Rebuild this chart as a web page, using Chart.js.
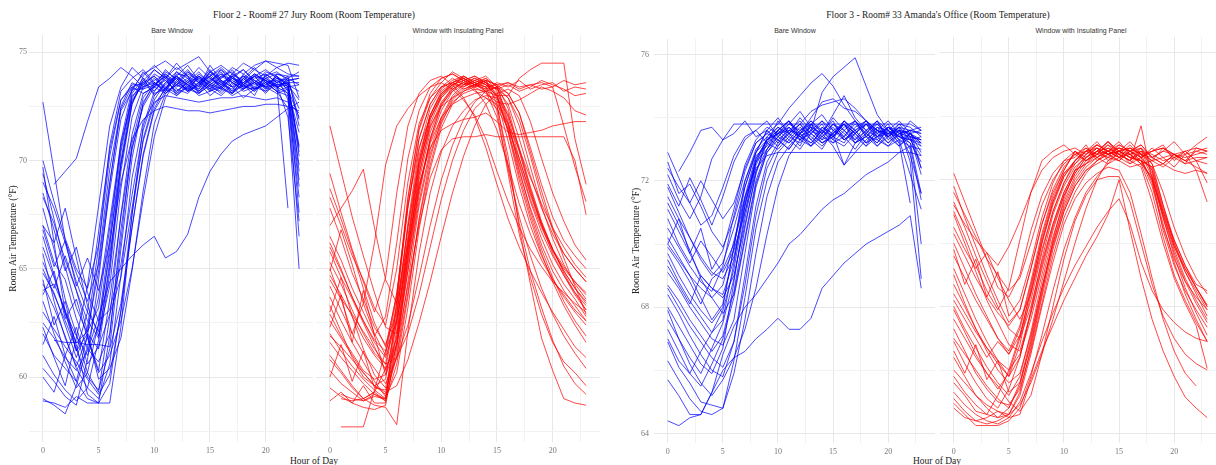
<!DOCTYPE html>
<html><head><meta charset="utf-8">
<script src="https://cdn.jsdelivr.net/npm/chart.js@4.4.1/dist/chart.umd.min.js"></script>
<style>
body{margin:0;width:1216px;height:465px;overflow:hidden;background:#fff;position:relative}
canvas{position:absolute}
.t{position:absolute;transform:translate(-50%,-50%);white-space:nowrap}
.title{font-family:'Liberation Serif',serif;font-size:9.5px;color:#222}
.strip{font-family:'Liberation Sans',sans-serif;font-size:7px;color:#333}
.xt{font-family:'Liberation Serif',serif;font-size:9.5px;color:#222}
</style></head>
<body>
<div class="t title" style="left:314px;top:15px">Floor 2 - Room# 27 Jury Room (Room Temperature)</div>
<div class="t title" style="left:938px;top:15px">Floor 3 - Room# 33 Amanda's Office (Room Temperature)</div>
<div class="t strip" style="left:172px;top:30px">Bare Window</div>
<div class="t strip" style="left:458px;top:30px">Window with Insulating Panel</div>
<div class="t strip" style="left:795px;top:30px">Bare Window</div>
<div class="t strip" style="left:1081px;top:30px">Window with Insulating Panel</div>
<div class="t xt" style="left:314px;top:461px">Hour of Day</div>
<div class="t xt" style="left:937px;top:461px">Hour of Day</div>
<canvas id="cA" width="313" height="431" style="left:0;top:27px"></canvas>
<canvas id="cB" width="284" height="431" style="left:316px;top:27px"></canvas>
<canvas id="cC" width="315" height="430" style="left:620px;top:29px"></canvas>
<canvas id="cD" width="276" height="430" style="left:940px;top:29px"></canvas>
<script>
const hours = [0,1,2,3,4,5,6,7,8,9,10,11,12,13,14,15,16,17,18,19,20,21,22,23];
const xTicks = [0,5,10,15,20];
const xMinor = [2.5,7.5,12.5,17.5,22.5];
const f2YTicks = [60,65,70,75];
const f2YMinor = [57.5,62.5,67.5,72.5];
const f3YTicks = [64,68,72,76];
const f3YMinor = [66,70,74];

// Floor 2 - Bare Window
const f2Bare = [
[65.7,63.5,61.8,60.5,61.9,65.4,69.6,72.4,73.4,73.6,73.9,73.3,74.1,73.8,73.2,73.6,74.0,73.7,73.4,73.9,74.2,73.8,73.6,70.2],
[69.7,66.2,63.0,61.2,63.0,66.7,70.5,72.8,73.4,73.1,73.4,74.2,73.7,73.2,73.5,73.9,73.3,73.1,73.8,74.3,73.6,73.2,73.4,69.1],
[62.3,60.9,59.6,61.8,64.2,67.9,71.6,73.4,74.3,73.8,73.0,73.5,73.9,74.4,73.7,73.2,73.4,74.0,73.6,73.3,73.9,74.1,73.7,73.8],
[64.0,64.3,63.1,61.5,59.2,58.8,61.9,66.8,70.5,72.6,73.6,73.2,73.5,74.1,73.6,73.0,73.4,73.8,74.2,73.7,73.4,73.9,73.2,71.3],
[72.7,69.5,66.3,64.8,63.5,65.2,69.0,72.3,73.2,74.1,73.5,73.9,73.0,73.4,74.0,73.6,73.3,73.9,73.5,73.2,73.8,73.5,73.6,72.4],
[59.0,58.7,58.3,59.6,61.4,63.7,67.2,70.8,72.8,73.5,74.2,73.8,73.1,73.7,73.3,74.1,73.6,73.2,74.0,73.6,73.1,73.7,73.4,73.5],
[67.8,65.9,63.6,62.0,60.2,59.3,62.8,67.5,71.2,73.1,73.4,74.0,73.6,73.3,73.1,73.7,74.1,73.4,73.6,73.9,73.3,73.6,73.9,73.9],
[null,68.9,69.5,70.1,71.8,73.4,73.8,74.3,73.9,73.4,73.6,73.2,73.9,73.5,73.9,73.4,73.2,73.8,73.5,73.9,73.7,73.3,73.8,74.1],
[63.0,62.2,61.4,60.7,59.9,59.2,60.1,63.0,66.9,70.3,72.4,73.4,73.8,73.2,73.9,73.4,73.7,73.1,73.8,73.3,73.6,73.7,73.3,67.6],
[60.4,59.8,59.1,58.7,60.8,64.5,68.9,72.5,73.6,73.3,73.5,74.1,73.8,73.2,73.5,73.9,73.4,73.1,73.6,74.0,73.7,73.4,73.5,73.2],
[66.5,64.7,62.9,61.6,62.1,64.9,68.6,71.9,73.3,73.3,73.8,73.3,74.0,73.9,73.1,73.5,73.8,74.2,73.5,73.0,74.0,73.6,73.1,69.8],
[58.9,58.8,58.6,59.1,58.8,58.8,59.7,63.1,67.5,71.0,72.8,73.6,73.9,73.4,73.1,73.5,73.9,73.6,73.2,73.4,73.8,73.4,73.7,73.8],
[69.4,67.3,65.1,63.2,62.0,61.3,64.8,69.5,72.6,73.7,73.2,73.8,74.3,73.9,73.4,74.4,73.7,73.2,73.5,73.9,73.4,73.9,73.5,70.6],
[64.8,63.9,62.4,60.9,62.3,66.0,70.2,72.8,73.5,73.5,73.9,73.4,73.1,73.4,73.8,73.3,73.0,73.5,73.9,73.7,73.3,74.0,73.8,71.9],
[65.3,64.1,65.6,64.0,62.1,63.2,66.9,70.6,73.1,73.8,73.4,73.1,73.6,74.1,73.8,73.5,73.1,73.6,73.3,73.6,73.9,73.4,73.6,73.6],
[67.0,66.2,67.8,65.5,63.3,61.9,64.2,68.7,72.0,73.4,73.7,74.0,73.5,73.3,73.9,73.6,74.2,73.8,73.4,73.3,73.5,73.9,72.8,68.3],
[null,61.7,61.6,61.6,61.5,61.5,61.4,65.9,70.1,72.7,73.5,73.9,73.3,73.1,73.6,74.0,73.5,73.3,73.8,73.4,73.2,73.8,73.5,72.8],
[62.5,61.8,60.9,60.3,61.2,62.8,64.4,65.0,65.6,66.1,66.5,65.5,65.8,66.6,68.3,69.5,70.3,70.9,71.2,71.4,71.6,72.0,72.4,72.7],
[66.0,64.6,63.0,61.9,61.0,62.4,65.7,69.0,71.0,71.9,72.3,72.5,72.4,72.3,72.3,72.2,72.3,72.4,72.5,72.5,72.6,72.6,72.5,72.3],
[64.3,63.2,61.9,60.4,59.5,59.0,60.6,64.7,69.2,71.8,72.7,73.0,72.9,72.8,72.7,72.8,72.9,72.9,73.0,72.9,72.8,72.9,72.7,72.2],
[68.3,67.1,65.4,64.0,62.6,61.8,65.3,70.0,72.9,73.7,74.2,73.8,74.5,73.9,73.6,74.1,73.8,74.3,74.0,74.4,74.6,74.5,74.4,72.9],
[63.5,62.0,60.7,59.5,60.2,62.5,66.4,70.9,73.3,74.0,74.3,74.6,74.2,74.5,74.8,74.1,74.4,74.0,74.5,74.2,74.6,74.3,74.5,74.4],
[61.0,60.1,59.4,58.9,59.5,61.7,65.1,69.8,72.7,73.6,73.1,73.3,73.9,73.5,73.0,73.2,73.7,73.4,72.9,73.3,73.6,73.2,73.0,66.5],
[65.0,63.8,62.6,61.3,60.0,59.4,61.3,63.4,66.9,70.2,72.3,73.2,73.9,73.3,73.6,74.2,73.6,73.1,73.5,74.0,73.6,73.2,72.4,65.0],
[69.0,67.8,66.2,64.4,63.0,62.1,66.0,70.4,73.0,73.4,74.0,73.7,73.2,73.6,74.1,73.5,73.3,73.9,74.2,73.6,73.4,73.5,67.8,null],
[62.0,61.0,60.4,59.8,59.0,58.8,58.8,62.3,67.5,71.6,73.2,73.9,73.5,73.2,73.6,73.9,74.2,73.6,73.3,73.8,74.0,73.6,73.8,73.5],
[67.0,65.3,64.5,62.7,61.3,60.7,62.0,66.3,70.8,72.9,73.6,73.1,73.5,74.0,73.7,73.2,73.5,73.9,73.3,73.6,74.1,73.9,73.4,70.7],
[70.0,68.1,66.4,65.0,64.1,66.1,70.7,73.2,73.8,74.2,73.6,73.3,73.8,73.5,73.2,73.7,74.0,73.6,73.9,73.3,73.5,73.8,73.7,69.5],
[63.8,64.9,62.7,63.6,61.8,60.2,61.0,62.6,65.0,68.2,71.1,72.9,73.7,74.2,73.6,73.3,73.9,74.1,73.5,73.2,73.7,73.4,73.1,68.8],
[66.8,65.1,66.3,64.2,65.5,64.0,66.2,69.8,72.6,73.9,74.4,73.9,73.4,73.7,74.3,73.8,73.5,74.0,73.7,74.2,73.9,74.3,74.0,73.9],
[61.5,62.8,61.0,62.3,60.6,61.4,62.9,64.6,67.8,70.9,72.6,73.3,73.0,73.5,73.2,73.8,73.4,73.0,73.3,73.7,73.4,73.1,73.3,72.0],
[60.0,59.3,61.0,59.8,61.9,60.3,63.6,67.4,70.6,72.5,73.4,73.7,73.2,73.6,73.9,73.3,73.6,73.9,73.4,73.6,73.2,73.5,73.6,70.4],
[68.5,66.8,64.9,66.0,63.9,62.6,63.1,65.2,68.4,71.4,73.0,73.6,74.1,73.6,73.3,73.9,74.3,73.8,73.6,74.0,73.7,73.5,72.0,67.2],
[64.5,62.4,63.5,61.2,62.0,59.9,60.4,61.8,64.9,68.6,71.7,73.1,73.5,73.8,73.4,74.1,73.7,73.4,73.9,73.5,73.8,74.0,73.9,71.6]
];

// Floor 2 - Window with Insulating Panel
const f2Panel = [
[68.7,67.3,65.8,64.1,62.5,61.4,63.8,67.9,70.6,72.0,72.9,73.4,73.6,73.8,73.5,73.0,71.6,69.8,68.1,66.7,65.6,64.7,63.9,63.3],
[71.6,69.5,67.4,65.6,63.9,62.3,62.0,65.4,68.8,70.9,72.3,73.2,73.7,73.9,73.6,72.9,71.4,69.5,67.8,66.4,65.2,64.3,63.6,62.8],
[null,59.2,59.0,58.9,59.1,59.0,62.7,67.1,70.5,72.4,73.3,73.7,73.9,73.6,73.8,73.2,71.7,69.9,68.2,66.9,65.8,65.0,64.4,63.8],
[62.6,61.8,61.0,60.2,59.6,59.2,61.6,65.8,69.4,71.5,72.7,73.3,73.6,73.4,73.7,73.5,72.4,70.5,68.7,67.1,65.9,64.9,64.1,63.4],
[66.5,65.4,64.1,63.0,61.9,62.8,66.2,70.1,72.3,73.4,73.8,74.0,73.7,73.3,72.6,71.4,69.8,68.0,66.6,65.4,64.5,63.8,63.1,62.6],
[65.8,64.6,63.6,62.5,61.4,60.3,61.8,64.9,68.1,70.5,72.0,73.0,73.5,73.8,73.6,73.3,72.6,71.0,69.3,67.8,66.6,65.7,65.0,64.4],
[64.2,63.1,62.0,61.1,60.4,59.7,60.9,62.4,64.6,67.0,69.1,70.7,71.9,72.7,73.2,73.4,73.1,72.2,70.6,68.9,67.4,66.3,65.6,65.0],
[null,57.7,57.7,57.7,59.4,61.2,63.9,67.9,71.0,72.6,73.4,73.8,73.5,73.7,73.9,73.4,72.0,70.1,68.4,67.0,65.9,65.1,64.4,63.9],
[61.0,60.3,59.6,59.0,58.7,58.6,57.8,62.1,65.7,68.5,70.4,71.6,72.3,72.8,73.0,72.9,72.1,70.6,68.8,67.2,65.9,64.8,63.9,63.1],
[67.0,67.8,68.6,69.6,66.9,64.5,63.4,66.3,69.9,72.1,73.1,73.6,73.9,73.6,73.4,72.8,70.9,68.8,67.0,65.6,64.5,63.7,63.0,62.4],
[63.7,62.6,61.6,60.7,59.8,59.1,60.2,63.2,66.8,69.6,71.5,72.6,73.2,73.5,73.7,73.5,73.1,72.2,70.4,68.6,66.9,65.5,64.2,62.9],
[62.0,61.2,60.5,59.9,59.4,59.0,61.0,64.4,67.9,70.3,71.8,72.7,73.1,73.3,73.2,72.5,70.2,66.9,64.3,61.8,60.3,59.0,58.8,58.7],
[60.3,59.7,59.3,58.9,59.2,59.0,62.2,66.5,70.0,72.1,73.2,73.6,73.8,73.5,73.7,72.6,69.8,67.1,64.9,63.2,61.7,60.5,59.7,59.2],
[58.9,59.3,58.8,59.6,58.8,58.8,63.5,68.2,71.4,72.9,73.6,74.1,73.8,73.5,73.4,72.3,69.4,66.6,64.6,62.9,61.6,60.7,60.2,59.6],
[68.3,67.0,65.6,64.5,63.2,62.4,65.0,69.0,71.7,72.9,73.4,73.6,73.3,73.5,73.2,73.4,73.6,73.3,73.5,73.6,73.4,73.7,73.5,73.6],
[65.3,64.3,63.1,62.0,61.1,60.6,63.4,67.8,71.0,72.6,73.4,73.6,73.8,73.5,73.3,73.6,73.4,73.7,73.3,73.5,73.6,73.2,73.4,73.3],
[63.3,62.1,60.9,60.0,59.6,59.9,62.9,66.9,70.2,72.1,73.1,73.5,73.7,73.4,73.6,73.3,73.5,73.2,73.4,73.7,73.5,73.3,73.0,73.1],
[66.2,65.0,63.7,62.6,61.7,61.2,62.6,65.6,68.7,70.8,72.0,72.6,72.9,73.1,73.2,73.0,73.0,73.8,74.2,74.5,74.5,74.5,71.0,68.9],
[64.7,63.8,62.8,61.8,61.0,60.4,61.5,64.2,67.0,69.2,70.5,71.0,71.1,71.1,71.2,71.1,71.1,71.1,71.1,71.1,71.1,71.1,70.0,67.5],
[62.9,61.9,61.1,60.3,59.9,60.1,62.5,66.0,68.9,70.6,71.4,71.7,71.9,72.0,72.2,71.8,71.3,71.2,71.3,71.4,71.6,71.7,71.8,71.8],
[60.8,60.2,59.5,59.0,59.3,60.4,63.2,66.9,69.9,71.6,72.5,72.9,73.2,73.4,73.1,72.7,72.6,72.8,73.1,73.4,73.2,72.9,72.3,72.1],
[69.4,67.6,65.9,64.4,63.0,64.6,68.5,71.6,73.1,73.7,73.9,73.5,72.9,72.0,70.6,68.9,67.3,66.0,64.9,63.9,63.0,62.2,61.4,60.9],
[67.8,66.4,64.8,63.6,62.3,61.5,63.0,66.2,69.6,71.9,73.0,73.6,73.4,73.7,73.5,73.0,71.4,69.3,67.5,65.9,64.6,63.5,62.6,61.9],
[61.6,60.9,60.3,59.7,59.2,58.9,60.6,63.7,67.3,70.1,71.9,72.9,73.4,73.7,73.5,73.3,72.9,71.9,70.2,68.3,66.8,65.7,65.0,64.4],
[null,59.0,58.9,59.0,59.3,58.9,61.3,65.5,69.3,71.7,72.9,73.5,73.8,73.5,73.7,73.0,71.3,69.1,67.3,65.7,64.4,63.3,62.4,61.6],
[64.9,66.8,65.2,63.4,62.0,61.0,63.7,68.3,71.5,73.1,73.8,74.0,73.7,73.5,73.8,73.4,71.8,69.6,67.7,66.1,64.9,64.0,63.3,62.6],
[66.0,64.9,63.7,62.6,61.6,60.9,62.6,65.9,69.1,71.3,72.6,73.2,73.5,73.6,73.4,73.5,73.6,73.4,73.5,73.3,73.4,71.6,69.7,68.1],
[63.0,64.6,62.8,61.3,60.1,59.5,61.9,66.1,69.7,71.9,73.0,73.5,73.7,73.9,73.6,73.1,72.2,70.4,68.6,67.0,65.7,64.7,63.8,63.1],
[65.0,63.6,62.0,63.4,66.2,69.8,71.6,72.4,73.0,73.4,73.6,73.3,72.8,72.1,71.0,69.5,68.1,66.9,65.9,65.1,64.4,63.9,63.4,63.0],
[61.9,61.4,60.8,60.2,59.6,59.3,59.6,60.8,62.5,64.4,66.5,68.5,70.2,71.6,72.6,73.1,73.3,73.0,71.8,70.1,68.5,67.2,66.1,65.4],
[62.3,63.8,61.6,64.0,61.9,60.1,61.4,64.9,68.4,71.0,72.5,73.3,73.6,73.2,72.9,72.4,71.5,70.1,68.5,67.1,65.9,64.9,64.1,63.5],
[60.0,61.5,59.8,61.2,59.5,59.4,60.9,63.9,67.2,69.8,71.7,72.8,73.3,73.5,73.3,73.4,72.9,71.6,69.7,67.9,66.4,65.2,64.3,63.6],
[64.5,63.6,62.9,62.1,61.3,60.6,60.9,62.0,63.8,66.0,68.2,70.0,71.4,72.4,72.9,72.6,71.7,70.5,69.2,68.0,66.9,66.0,65.2,64.6],
[59.5,59.1,58.8,58.6,58.5,58.7,61.6,65.2,68.6,71.0,72.6,73.4,73.9,73.6,73.2,72.0,69.6,67.4,65.6,64.1,62.9,61.9,61.1,60.4]
];

// Floor 3 - Bare Window
const f3Bare = [
[72.9,72.1,71.3,70.6,70.9,71.8,72.8,73.4,73.6,73.2,73.9,73.5,73.1,73.8,73.6,73.3,73.9,73.5,73.2,73.7,73.4,73.8,73.7,73.4],
[null,72.3,72.9,73.6,73.7,73.3,73.5,73.9,73.4,73.6,74.0,73.5,73.3,73.8,74.1,73.6,73.4,73.9,73.5,73.2,73.6,73.9,73.5,73.1],
[71.8,71.0,70.2,69.5,69.0,69.4,70.5,71.8,72.9,73.6,73.2,73.5,74.0,73.6,73.3,73.8,73.4,73.0,73.5,73.9,73.3,73.6,72.8,71.6],
[71.5,70.8,70.2,69.6,69.1,68.9,69.6,71.3,72.6,73.0,73.6,73.9,73.3,73.1,73.7,73.4,73.9,73.6,73.2,73.5,73.8,73.3,73.5,73.2],
[71.1,70.4,69.7,69.0,68.6,68.3,69.0,70.6,72.2,73.4,73.1,73.5,73.8,73.3,73.0,73.6,73.8,73.3,73.6,73.1,73.4,73.7,73.3,72.8],
[70.5,69.9,69.3,68.8,68.5,69.3,70.9,72.3,73.2,73.5,73.3,73.6,73.5,74.0,74.5,74.6,74.3,74.2,73.9,73.6,73.5,73.4,73.6,73.5],
[70.2,69.6,69.0,68.3,67.6,68.1,69.9,71.8,72.9,73.6,73.3,73.0,73.5,73.9,73.6,73.2,73.4,73.8,73.5,73.2,73.7,73.5,73.2,72.6],
[69.9,69.4,68.8,68.1,68.9,69.2,70.0,71.4,72.7,73.3,73.5,73.7,73.4,73.6,74.8,75.3,75.6,75.9,75.0,74.1,73.6,73.4,73.3,73.1],
[69.5,68.8,68.2,67.7,67.2,67.6,69.4,71.5,72.8,73.1,73.6,73.9,73.4,73.2,73.6,73.9,73.3,73.6,73.9,73.4,73.1,73.3,72.2,71.1],
[69.1,68.6,68.0,67.5,67.0,66.8,67.6,69.7,71.8,72.9,73.3,73.0,73.5,73.7,73.2,73.5,73.8,73.2,73.4,73.7,73.6,73.2,73.5,73.6],
[68.7,68.2,67.6,67.1,66.6,67.1,68.5,70.5,72.3,73.2,73.5,73.8,73.6,73.3,73.7,73.5,72.5,73.2,73.5,73.9,73.4,73.1,73.4,72.4],
[68.0,67.4,66.8,66.2,65.9,66.7,68.8,71.0,72.6,73.3,73.7,73.4,73.2,73.6,73.9,73.4,73.2,73.7,73.9,73.5,73.2,73.6,73.5,72.9],
[67.6,67.0,66.4,65.9,66.7,67.5,68.9,70.8,72.5,73.2,73.0,73.4,73.8,73.5,73.2,73.4,73.7,73.9,73.4,73.1,73.5,73.8,73.4,73.3],
[67.3,66.6,65.9,66.6,67.2,67.9,69.2,71.2,72.7,73.3,73.6,73.9,73.5,73.1,73.4,73.8,73.5,73.2,73.6,73.9,73.6,73.2,71.3,null],
[64.4,64.25,64.5,64.6,65.3,66.0,66.4,66.6,67.0,67.3,67.65,67.3,67.3,67.65,68.6,69.0,69.4,69.7,70.0,70.2,70.4,70.6,70.9,68.6],
[65.7,65.2,64.6,64.6,65.3,66.5,67.4,68.0,68.4,68.9,69.4,70.0,70.3,70.7,71.1,71.4,71.6,71.9,72.2,72.4,72.6,72.9,73.1,73.0],
[66.9,66.1,65.6,65.0,64.9,64.8,66.3,68.3,70.5,72.0,72.9,73.3,73.7,73.4,73.1,73.5,73.8,73.4,73.1,73.6,73.4,73.7,72.6,68.9],
[72.6,71.6,71.9,71.2,70.4,69.9,70.8,72.0,72.9,73.3,73.5,73.6,73.4,73.7,73.5,74.1,74.7,74.0,73.6,73.4,73.5,73.6,73.3,73.4],
[70.8,70.0,69.4,70.1,69.6,69.1,69.8,71.0,72.3,73.0,73.4,73.2,73.6,73.9,73.5,73.1,72.5,72.9,73.3,73.6,73.9,73.5,73.6,73.7],
[69.7,69.0,68.4,67.9,67.5,68.0,69.9,72.0,73.0,73.4,73.7,73.5,73.8,74.2,74.4,74.5,74.6,74.3,73.9,73.6,73.5,73.7,73.4,72.2],
[68.4,67.8,67.1,66.5,66.0,65.8,66.9,69.0,71.2,72.6,73.2,73.7,73.4,73.1,73.5,73.8,73.6,73.2,73.4,73.8,73.5,73.1,73.5,73.3],
[71.3,70.6,69.8,68.9,68.3,67.8,68.4,70.2,72.0,73.0,73.5,73.2,73.6,73.8,73.3,73.5,73.9,73.6,73.2,73.4,73.7,73.4,73.2,71.6],
[67.0,66.3,65.9,65.5,66.2,67.0,68.3,70.1,71.9,72.9,73.4,73.7,73.3,73.5,73.8,73.3,73.1,73.5,73.8,73.6,73.2,73.5,73.6,73.5],
[66.3,65.7,65.1,64.7,64.6,64.8,65.9,67.6,69.7,71.5,72.6,73.1,73.5,73.8,73.4,73.2,73.6,73.9,73.4,73.3,73.7,73.4,73.3,73.2],
[72.2,71.4,70.8,71.5,72.7,73.3,73.8,73.8,73.8,73.8,73.8,73.8,73.8,73.8,73.8,73.8,73.8,73.8,73.8,73.8,73.8,73.8,73.8,73.6],
[69.3,68.7,68.1,69.0,68.6,68.4,69.5,71.2,72.6,73.3,73.6,73.3,73.0,73.5,73.9,73.6,73.3,73.6,73.8,73.3,73.1,73.5,73.4,73.3],
[70.0,69.5,69.0,68.6,68.3,68.7,70.1,71.5,72.4,72.8,72.9,72.9,72.9,72.9,72.9,72.9,72.9,72.9,72.9,72.9,72.9,72.9,72.9,72.8],
[68.6,68.0,67.4,66.9,66.4,66.1,66.9,68.7,70.9,72.4,73.1,73.6,73.9,73.5,73.2,73.4,73.8,73.5,73.1,73.4,73.7,73.6,73.0,70.0],
[71.9,71.2,72.1,71.4,70.6,71.5,72.6,73.3,73.6,73.9,73.4,73.8,74.2,73.7,73.5,74.0,73.6,73.3,73.8,73.5,73.7,73.4,73.9,73.6],
[72.4,71.8,71.3,72.0,71.4,70.8,71.3,72.4,73.2,73.5,73.8,74.3,74.7,75.1,75.4,75.0,74.4,73.9,73.6,73.8,73.4,73.6,73.5,73.2],
[67.9,67.0,66.2,65.6,65.2,65.7,66.4,67.3,68.6,70.3,71.8,72.8,73.3,73.6,73.4,73.7,73.3,73.5,73.8,73.4,73.6,73.3,73.1,71.4],
[70.0,70.8,69.7,70.5,69.2,69.8,71.1,72.5,73.3,73.7,73.5,73.9,73.5,73.2,73.6,73.4,73.8,73.5,73.9,73.6,73.4,73.7,73.6,72.4]
];

// Floor 3 - Window with Insulating Panel
const f3Panel = [
[72.2,71.3,70.4,69.5,68.6,68.3,69.0,70.4,71.5,72.2,72.6,72.7,73.1,72.6,72.9,73.2,72.8,72.5,72.1,70.9,69.9,69.2,68.6,68.0],
[71.8,70.8,69.9,69.0,68.2,67.5,67.9,69.2,70.6,71.6,72.3,72.9,72.6,72.8,73.2,72.9,72.5,72.7,73.0,72.7,72.4,72.8,72.9,72.8],
[71.3,70.5,69.6,68.8,68.0,67.3,67.0,68.0,69.4,70.6,71.6,72.3,72.5,72.9,72.7,73.1,72.9,72.6,72.4,71.2,70.0,69.1,68.4,67.7],
[70.9,70.0,69.1,68.2,67.5,66.8,66.6,67.8,69.2,70.5,71.5,72.2,72.7,73.0,72.6,72.8,73.1,72.7,72.9,73.1,72.6,72.9,73.0,72.9],
[70.0,69.2,68.4,67.7,67.0,66.5,67.3,68.7,70.1,71.3,72.1,72.6,72.9,72.7,73.0,72.8,72.6,73.7,72.0,70.4,69.3,68.5,67.9,67.35],
[69.2,68.4,67.6,66.9,66.3,65.8,66.4,67.8,69.3,70.6,71.6,72.3,72.5,72.8,73.1,72.7,72.5,72.9,72.6,72.4,72.7,72.5,72.6,72.5],
[69.0,68.1,67.3,66.6,66.0,65.6,65.9,67.1,68.6,70.0,71.1,71.9,72.4,72.7,72.9,73.0,72.8,72.5,71.6,70.2,69.0,68.2,67.5,66.9],
[68.0,67.3,66.7,66.1,65.6,65.2,65.8,67.2,68.8,70.2,71.3,72.1,72.6,72.8,72.9,73.1,72.9,72.7,71.9,70.6,69.4,68.4,67.6,66.9],
[67.3,66.6,65.9,65.4,65.0,64.9,65.4,66.6,68.1,69.6,70.8,71.6,72.2,72.6,72.8,72.9,72.7,72.6,72.4,72.5,72.3,72.2,72.3,72.2],
[66.9,66.2,65.6,65.1,64.8,65.4,66.4,67.9,69.5,70.9,71.8,72.4,72.7,72.9,73.0,72.8,72.6,72.9,72.2,70.9,69.8,68.9,68.2,67.6],
[65.8,65.3,64.9,64.6,65.2,66.0,67.1,68.5,70.0,71.2,72.1,72.6,72.9,73.0,72.8,73.0,72.9,72.7,72.9,73.0,72.8,72.6,72.9,73.0],
[65.6,65.2,64.7,64.6,64.5,64.8,65.6,67.0,68.6,70.0,71.2,72.0,72.5,72.7,72.9,72.8,72.6,72.4,71.3,70.0,68.9,68.1,67.4,66.05],
[64.95,64.6,64.25,64.25,64.25,64.4,64.8,65.8,67.1,68.5,69.8,70.8,71.6,72.1,72.5,72.7,72.8,72.6,72.0,71.0,70.1,69.3,68.6,68.05],
[64.8,64.5,64.4,64.5,64.7,64.5,64.6,65.7,66.6,67.4,68.2,68.9,69.6,70.2,70.9,72.0,70.4,68.9,67.6,66.6,65.8,65.15,64.8,64.5],
[70.5,69.8,69.2,69.7,68.9,68.2,67.6,68.4,69.8,71.0,71.9,72.5,72.8,73.0,72.8,72.9,73.0,72.8,72.7,72.9,72.8,72.6,72.7,72.7],
[71.2,70.6,70.1,69.7,69.3,69.9,70.7,71.6,72.3,72.7,72.9,73.0,72.8,73.1,72.9,72.7,72.8,73.0,72.5,71.2,70.1,69.3,68.7,68.5],
[68.7,68.0,67.3,66.7,66.2,65.8,66.8,68.4,70.0,71.3,72.2,72.5,72.9,73.2,72.8,72.6,72.9,73.1,72.7,72.9,73.2,72.8,73.1,73.35],
[67.9,67.2,66.5,65.9,65.4,65.9,67.0,68.6,70.2,71.4,72.2,72.6,72.9,72.8,72.7,72.9,72.7,72.6,72.0,70.8,69.7,68.8,68.1,67.5],
[66.4,65.8,65.2,64.8,64.5,64.6,65.2,66.5,68.0,69.4,70.6,71.4,71.9,72.2,72.4,72.3,71.6,70.3,68.9,67.6,66.6,65.9,65.5,null],
[65.3,64.9,64.6,64.4,64.3,64.5,65.0,65.9,66.9,67.8,68.6,69.3,69.9,70.5,71.0,71.4,70.6,69.4,68.5,67.9,67.5,67.2,67.0,66.9],
[69.6,68.9,68.2,67.6,67.0,66.6,67.4,68.8,70.3,71.5,72.3,72.9,72.6,72.9,73.2,72.8,72.6,73.0,72.7,72.5,72.8,72.6,72.4,72.2],
[71.6,70.9,70.2,69.5,69.0,68.5,68.9,70.0,71.2,72.0,72.5,72.8,73.0,72.8,73.1,72.9,72.7,72.8,72.9,73.0,72.7,72.9,72.6,71.9],
[68.4,67.8,67.2,66.7,66.3,66.0,66.5,67.6,69.0,70.4,71.5,72.2,72.7,72.9,72.8,73.0,72.9,72.7,72.3,71.1,70.0,69.2,68.6,68.0],
[66.0,65.6,65.2,64.9,64.7,64.6,65.3,66.7,68.3,69.8,71.0,71.8,72.3,72.6,72.8,72.9,72.8,72.9,72.8,72.6,72.7,72.8,72.3,71.3],
[67.6,67.0,66.4,65.9,65.5,65.0,64.7,65.2,66.5,68.0,69.5,70.7,71.5,72.0,72.1,72.1,71.3,70.0,68.7,67.7,67.0,66.5,66.2,66.0],
[70.3,69.6,68.9,68.3,67.8,67.4,67.9,69.2,70.6,71.7,72.4,72.8,72.9,73.1,72.9,72.7,72.9,73.0,72.3,71.0,69.9,69.1,68.5,67.9],
[67.0,66.5,66.0,65.5,65.1,64.8,65.5,66.9,68.5,69.9,71.0,71.8,72.3,72.5,72.7,72.6,72.4,72.5,72.6,72.7,72.8,72.7,72.8,72.9],
[68.2,67.6,67.0,66.4,66.9,66.5,67.1,68.2,69.7,71.0,71.9,72.6,73.0,72.7,72.5,72.9,73.2,72.8,72.6,73.0,72.8,72.5,73.0,72.9],
[71.0,70.2,69.3,68.5,67.9,68.6,70.1,71.6,72.6,72.9,73.1,72.8,72.6,72.9,73.2,72.9,72.7,72.6,71.8,70.5,69.5,68.8,68.3,67.9],
[65.1,64.7,64.4,64.3,64.4,64.6,64.9,65.6,66.5,67.6,68.8,70.0,71.1,72.0,72.6,72.9,73.0,72.8,72.5,71.6,70.5,69.6,68.9,68.4],
[69.8,68.7,69.5,68.3,69.1,67.7,68.2,69.4,70.8,71.9,72.6,72.9,72.7,73.0,72.8,72.6,72.9,73.1,72.7,72.5,72.8,72.9,72.6,72.7],
[66.6,65.9,66.8,65.7,66.3,65.3,65.6,66.8,68.4,70.1,71.4,72.3,72.8,73.1,72.9,72.7,73.0,72.8,72.1,70.8,69.6,68.6,67.8,67.1]
];

const BLUE = 'rgba(0,0,255,0.72)';
const RED = 'rgba(255,0,0,0.72)';
const MAJOR = '#e8e8e8';
const MINOR = '#f2f2f2';

function datasets(lines, color) {
  return lines.map(l => ({
    data: l.map((v, i) => ({x: hours[i], y: v})),
    borderColor: color, borderWidth: 1, pointRadius: 0, tension: 0,
    fill: false, spanGaps: false
  }));
}

function facet(id, lines, color, o) {
  const yAll = o.yMajor.concat(o.yMinor).sort((a, b) => a - b);
  const xAll = xTicks.concat(xMinor).sort((a, b) => a - b);
  const showY = o.yw > 0;
  return new Chart(document.getElementById(id), {
    type: 'line',
    data: {datasets: datasets(lines, color)},
    options: {
      responsive: false, animation: false, events: [],
      layout: {padding: {top: 8, left: 0, right: 0, bottom: 0}},
      plugins: {legend: {display: false}, tooltip: {enabled: false}},
      scales: {
        x: {
          type: 'linear', min: -1.25, max: o.xmax,
          border: {display: false},
          afterBuildTicks: s => { s.ticks = xAll.map(v => ({value: v})); },
          afterFit: s => { s.height = 16; },
          grid: {drawTicks: false, lineWidth: 1,
                 color: c => (c.tick && xTicks.includes(c.tick.value)) ? MAJOR : MINOR},
          ticks: {autoSkip: false, maxRotation: 0, padding: 4, color: '#777',
                  font: {family: 'Liberation Serif', size: 8},
                  callback: v => xTicks.includes(v) ? String(v) : ''}
        },
        y: {
          type: 'linear', min: o.ymin, max: o.ymax,
          border: {display: false},
          afterBuildTicks: s => { s.ticks = yAll.map(v => ({value: v})); },
          afterFit: s => { s.width = o.yw; },
          grid: {drawTicks: false, lineWidth: 1,
                 color: c => (c.tick && o.yMajor.includes(c.tick.value)) ? MAJOR : MINOR},
          ticks: {display: showY, autoSkip: false, padding: o.tpad, color: '#777',
                  font: {family: 'Liberation Serif', size: 8},
                  callback: v => o.yMajor.includes(v) ? String(v) : ''},
          title: {display: showY, text: 'Room Air Temperature (°F)', color: '#222',
                  font: {family: 'Liberation Serif', size: 9.5},
                  padding: {top: o.titlePad, bottom: 0}}
        }
      }
    }
  });
}

facet('cA', f2Bare, BLUE, {xmax: 24.25, ymin: 57.0, ymax: 75.8, yMajor: f2YTicks, yMinor: f2YMinor, yw: 29, tpad: 2, titlePad: 8});
facet('cB', f2Panel, RED, {xmax: 24.25, ymin: 57.0, ymax: 75.8, yMajor: f2YTicks, yMinor: f2YMinor, yw: 0, tpad: 0, titlePad: 0});
facet('cC', f3Bare, BLUE, {xmax: 24.25, ymin: 63.7, ymax: 76.5, yMajor: f3YTicks, yMinor: f3YMinor, yw: 34, tpad: 5, titlePad: 11});
facet('cD', f3Panel, RED, {xmax: 23.8, ymin: 63.7, ymax: 76.5, yMajor: f3YTicks, yMinor: f3YMinor, yw: 0, tpad: 0, titlePad: 0});
</script>
</body></html>
